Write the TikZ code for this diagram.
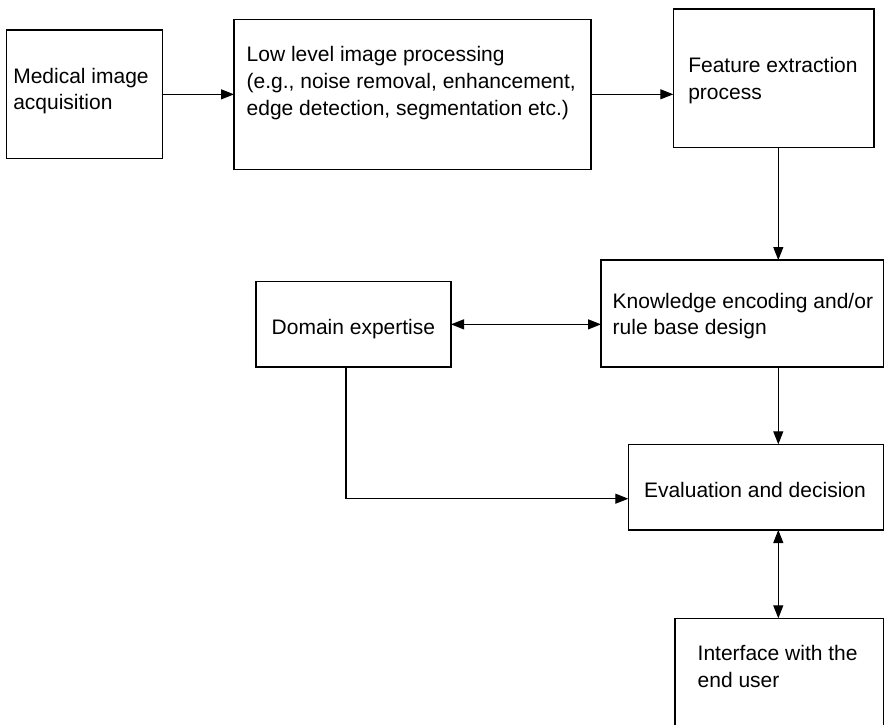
\documentclass[tikz,border=0pt]{standalone}
\usepackage{fontspec}
\setmainfont{Liberation Sans}
\usetikzlibrary{arrows.meta}
\begin{document}
\begin{tikzpicture}[x=1pt,y=-1pt,
  box/.style={draw, line width=1.2pt, inner sep=0pt, outer sep=0pt},
  txt/.style={inner sep=0pt, outer sep=0pt, anchor=base west},
  tip/.style={Triangle[length=13pt,width=10pt]},
  flow/.style={line width=1.1pt, -{Triangle[length=13pt,width=10pt]}},
  both/.style={line width=1.1pt, {Triangle[length=13pt,width=10pt]}-{Triangle[length=13pt,width=10pt]}}]
\useasboundingbox (0,0) rectangle (884,724);
\clip (0,0) rectangle (884,724);

% process boxes
\node[box, minimum width=155.6pt, minimum height=128.7pt] (acq)   at (84.5,94.35) {};
\node[box, minimum width=357pt,   minimum height=150pt]   (llip)  at (412.5,94.3) {};
\node[box, minimum width=200.7pt, minimum height=138.7pt] (feat)  at (773.65,78.35) {};
\node[box, minimum width=283pt,   minimum height=107pt]   (know)  at (742.5,313.5) {};
\node[box, minimum width=195pt,   minimum height=85.3pt]  (dom)   at (353.5,324.35) {};
\node[box, minimum width=255.7pt, minimum height=85.7pt]  (eval)  at (756.15,487.15) {};
\node[box, minimum width=209pt,   minimum height=121.7pt] (iface) at (779.5,679.15) {};

% box texts
\node[txt, font=\fontsize{21}{25.4}\selectfont] (acqtxt) at (13.3,83.6)
  {\begin{tabular}[t]{@{}l@{}}Medical image\\acquisition\end{tabular}};
\node[txt, font=\fontsize{21}{27}\selectfont] (lliptxt) at (246.7,61.3)
  {\begin{tabular}[t]{@{}l@{}}Low level image processing\\(e.g., noise removal, enhancement,\\edge detection, segmentation etc.)\end{tabular}};
\node[txt, font=\fontsize{21}{27}\selectfont] (feattxt) at (688.3,72)
  {\begin{tabular}[t]{@{}l@{}}Feature extraction\\process\end{tabular}};
\node[txt, font=\fontsize{21}{26.6}\selectfont] (knowtxt) at (612.7,308)
  {\begin{tabular}[t]{@{}l@{}}Knowledge encoding and/or\\rule base design\end{tabular}};
\node[txt, font=\fontsize{21}{26.6}\selectfont] (domtxt) at (271.7,334)
  {Domain expertise};
\node[txt, font=\fontsize{21}{26.6}\selectfont] (evaltxt) at (644,497.3)
  {Evaluation and decision};
\node[txt, font=\fontsize{21}{26.4}\selectfont] (ifacetxt) at (697.7,660.6)
  {\begin{tabular}[t]{@{}l@{}}Interface with the\\end user\end{tabular}};

% connectors
\coordinate (col) at (778.3,0);
\coordinate (dturn) at (346,498.7);
\draw[flow] (acq.east) -- (acq.east -| llip.west);
\draw[flow] (llip.east) -- (llip.east -| feat.west);
\draw[flow] (feat.south -| col) -- (know.north -| col);
\draw[both] (dom.east) -- (dom.east -| know.west);
\draw[flow] (know.south -| col) -- (eval.north -| col);
\draw[flow] (dom.south -| dturn) |- (eval.west |- dturn);
\draw[both] (eval.south -| col) -- (iface.north -| col);
\end{tikzpicture}
\end{document}
